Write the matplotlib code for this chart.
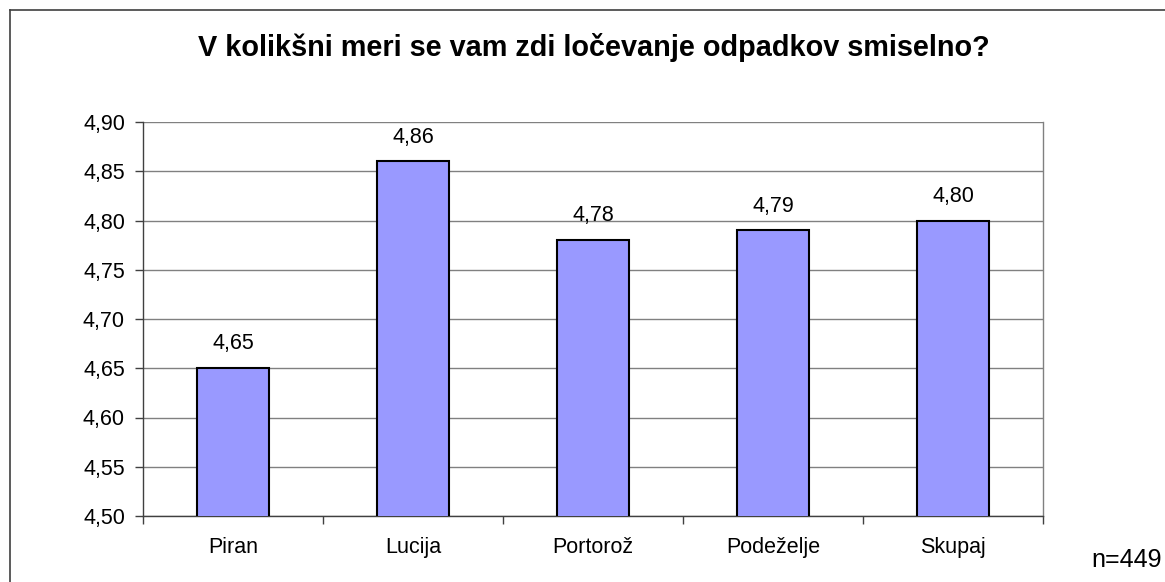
import matplotlib.pyplot as plt
import matplotlib.lines as mlines

categories = ["Piran", "Lucija", "Portorož", "Podeželje", "Skupaj"]
values = [4.65, 4.86, 4.78, 4.79, 4.80]
yticks = [4.50, 4.55, 4.60, 4.65, 4.70, 4.75, 4.80, 4.85, 4.90]

plt.rcParams['font.family'] = ['Liberation Sans', 'DejaVu Sans']

fig = plt.figure(figsize=(11.65, 5.82), dpi=100)
W, H = 1165, 582
# plot area in pixels: left 143, right 1043, top 122, bottom 516
ax = fig.add_axes([143 / W, 1 - 516 / H, 900 / W, 394 / H])

x = list(range(len(categories)))
ax.bar(x, values, width=0.4, color='#9999FF', edgecolor='black', linewidth=1.5, zorder=3)
for xi, v in zip(x, values):
    ax.text(xi, v + 0.014, f"{v:.2f}".replace('.', ','), ha='center', va='bottom', fontsize=15.5)

ax.set_xlim(-0.5, len(categories) - 0.5)
ax.set_ylim(4.50, 4.90)
ax.set_yticks(yticks)
ax.set_yticklabels([f"{t:.2f}".replace('.', ',') for t in yticks], fontsize=15.5)
ax.yaxis.grid(True, color='#808080', linewidth=1, zorder=0)
ax.set_xticks(x)
ax.set_xticklabels(categories, fontsize=15.5)
ax.tick_params(axis='x', length=0, pad=15)
ax.set_xticks([i - 0.5 for i in range(len(categories) + 1)], minor=True)
ax.tick_params(axis='x', which='minor', length=6, color='#404040', width=1)
ax.tick_params(axis='y', length=6, color='#404040', width=1, pad=7)

ax.spines['top'].set_visible(False)
ax.spines['right'].set_color('#808080')
ax.spines['left'].set_color('#404040')
ax.spines['bottom'].set_color('#404040')
for s in ax.spines.values():
    s.set_linewidth(1)

fig.text(594 / W, 1 - 48 / H, "V kolikšni meri se vam zdi ločevanje odpadkov smiselno?",
         ha='center', va='center', fontsize=20.8, fontweight='bold')
fig.text(1127 / W, 1 - 560 / H, "n=449", ha='center', va='center', fontsize=18)

# outer frame (left and top edges visible)
fig.add_artist(mlines.Line2D([9.5 / W, 9.5 / W], [0, 1 - 10 / H], color='#404040', linewidth=1.2))
fig.add_artist(mlines.Line2D([9.5 / W, 1], [1 - 10 / H, 1 - 10 / H], color='#404040', linewidth=1.2))

fig.savefig("out.png", dpi=100)
